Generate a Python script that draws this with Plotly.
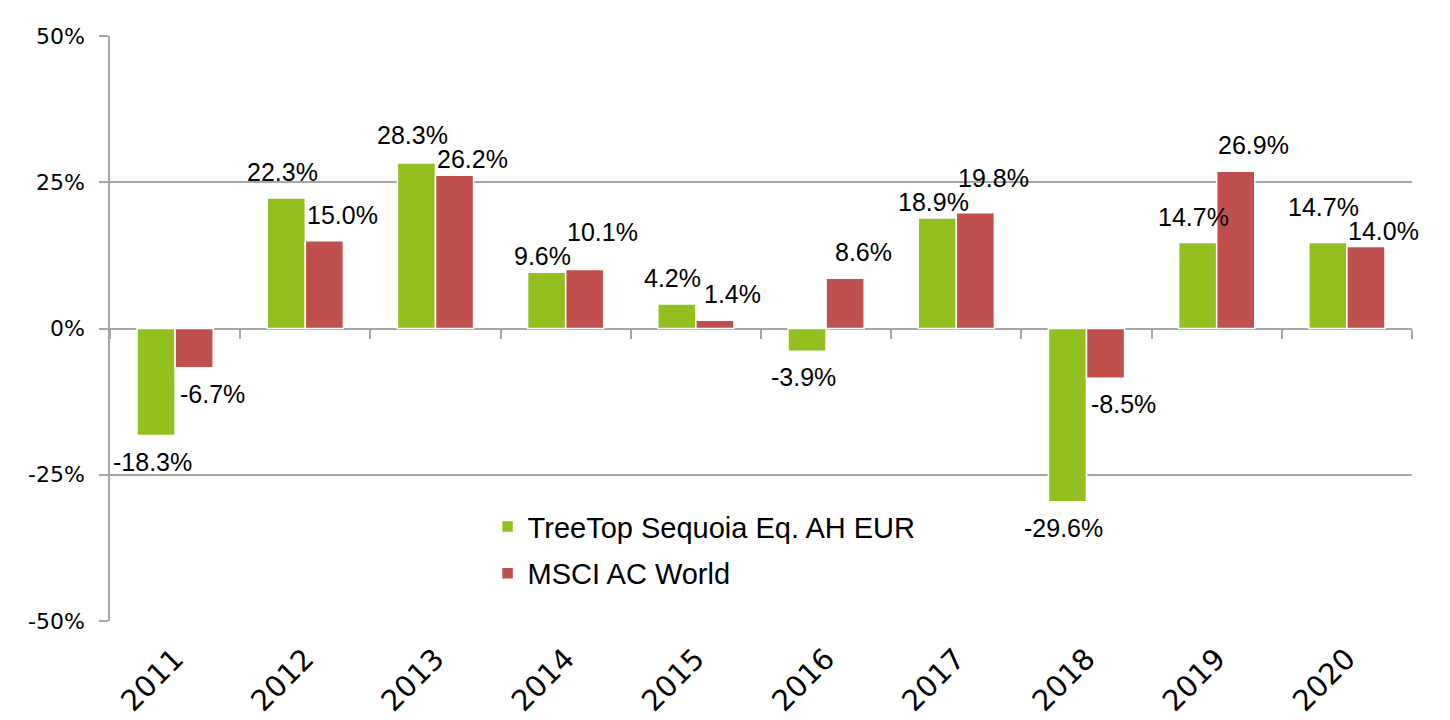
import plotly.graph_objects as go

years = ["2011", "2012", "2013", "2014", "2015", "2016", "2017", "2018", "2019", "2020"]
treetop = [-18.3, 22.3, 28.3, 9.6, 4.2, -3.9, 18.9, -29.6, 14.7, 14.7]
msci = [-6.7, 15.0, 26.2, 10.1, 1.4, 8.6, 19.8, -8.5, 26.9, 14.0]
series_names = ["TreeTop Sequoia Eq. AH EUR", "MSCI AC World"]
y_ticks = [-50, -25, 0, 25, 50]

GREEN = "#93C01F"
RED = "#C0504D"
GRID = "#a6a6a6"

W, H = 1450, 720
MARGIN = dict(l=110, r=38, t=36, b=99)
Y_RANGE = [-50, 50]
PX_PER_UNIT = (H - MARGIN["t"] - MARGIN["b"]) / (Y_RANGE[1] - Y_RANGE[0])

fig = go.Figure()
fig.add_trace(go.Bar(x=years, y=treetop, name=series_names[0], legendgroup="a",
                     marker=dict(color=GREEN, line=dict(color="white", width=1.5)),
                     hoverinfo="skip"))
fig.add_trace(go.Bar(x=years, y=msci, name=series_names[1], legendgroup="b",
                     marker=dict(color=RED, line=dict(color="white", width=1.5)),
                     hoverinfo="skip"))
# helper trace for the tick marks hanging from the zero line
fig.add_trace(go.Scatter(x=years, y=[0] * len(years), xaxis="x2", mode="markers",
                         marker=dict(opacity=0), showlegend=False, hoverinfo="skip"))

BASE_LIFT, LOW_LIFT, CLEAR = 26, 16, 24


def label_lift(v, other):
    """Pixel distance of a value label from its bar end (simple collision rule)."""
    if v >= 0 and other >= 0 and abs(v - other) < 2.5:
        if v > other:
            return max(BASE_LIFT, LOW_LIFT + CLEAR - (v - other) * PX_PER_UNIT)
        return LOW_LIFT
    return BASE_LIFT


for vals, others, dx in ((treetop, msci, -23), (msci, treetop, 37)):
    for i, (v, o) in enumerate(zip(vals, others)):
        lift = label_lift(v, o)
        fig.add_annotation(
            x=i, y=v, xref="x", yref="y", text=f"{v:.1f}%", showarrow=False,
            xshift=dx, yshift=lift if v >= 0 else -lift, yanchor="middle",
            font=dict(family="Liberation Sans", size=25, color="black"))

fig.update_layout(
    width=W, height=H,
    margin=MARGIN,
    paper_bgcolor="white", plot_bgcolor="white",
    barmode="group", bargap=0.415, bargroupgap=0,
    showlegend=True,
    legend=dict(x=0.29, y=0.205, xanchor="left", yanchor="top",
                orientation="v", bgcolor="rgba(0,0,0,0)", traceorder="grouped",
                font=dict(family="Liberation Sans", size=29, color="black"),
                itemwidth=30, tracegroupgap=6),
    xaxis=dict(type="category", range=[-0.5, 9.5], showgrid=False, ticks="",
               tickangle=-45, ticklabelstandoff=14, automargin=False,
               tickfont=dict(family="DejaVu Sans", size=29, color="black"),
               showline=False, zeroline=False),
    xaxis2=dict(type="category", overlaying="x", anchor="free", position=0.5,
                range=[-0.5, 9.5], tickson="boundaries", ticks="outside",
                ticklen=9, tickwidth=1.5, tickcolor=GRID, showticklabels=False,
                showgrid=False, showline=False, zeroline=False),
    yaxis=dict(range=Y_RANGE, tickmode="array", tickvals=y_ticks,
               ticktext=[f"{t}%" for t in y_ticks], automargin=False,
               showgrid=True, gridcolor=GRID, gridwidth=1.5,
               zeroline=True, zerolinecolor=GRID, zerolinewidth=1.5,
               showline=True, linecolor=GRID, linewidth=1.5,
               ticks="outside", ticklen=9, tickwidth=1.5, tickcolor=GRID,
               ticklabelstandoff=10,
               tickfont=dict(family="DejaVu Sans", size=22, color="black")),
)

fig.write_html("out.html")
